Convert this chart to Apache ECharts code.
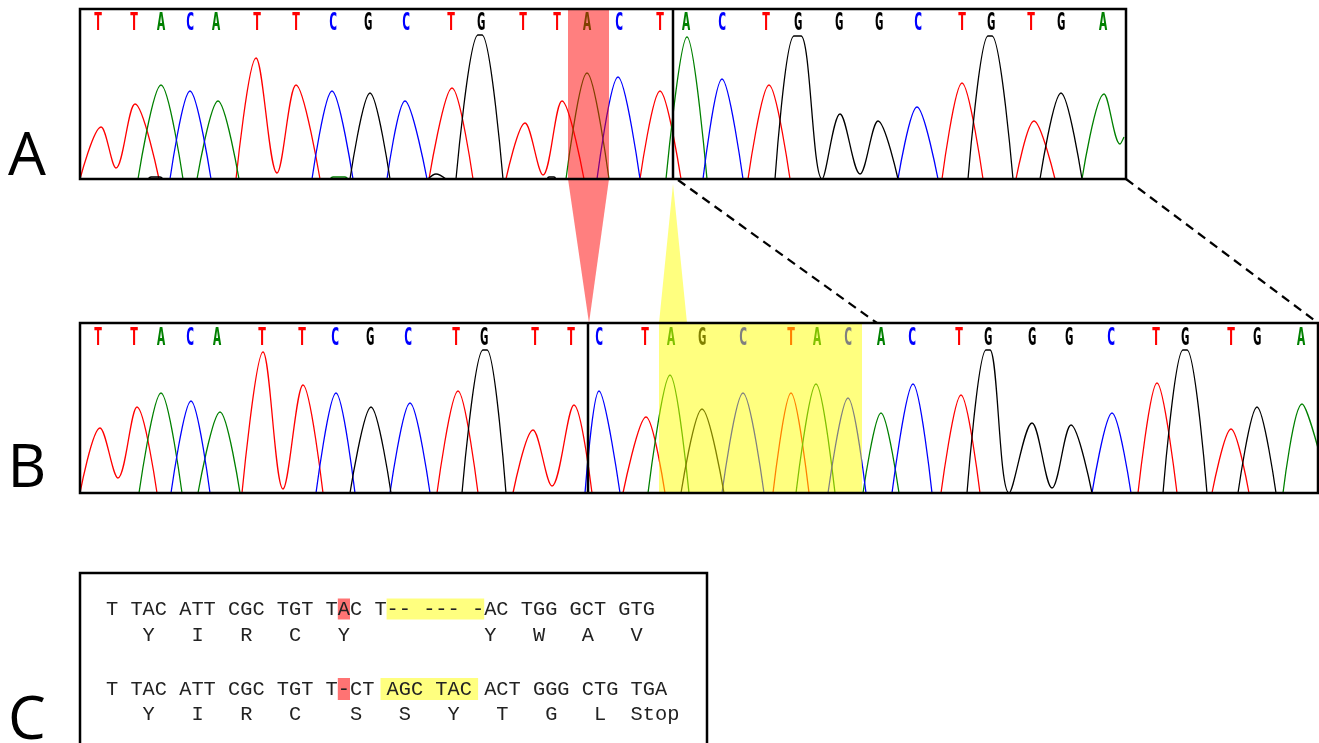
<!DOCTYPE html>
<html><head><meta charset="utf-8">
<script src="https://cdn.jsdelivr.net/npm/echarts@6/dist/echarts.min.js"></script>
<style>html,body{margin:0;padding:0;background:#fff}#c{width:1319px;height:743px}</style>
</head><body><div id="c"></div>
<script>
// ---------- Panel A (wild type) : base calls and traces (x = scan position, y = signal) ----------
const basesA   = 'TTACATTCGCTGTTACTACTGGGCTGTGA'.split('');
const basePosA = [18,54,81,110,136,177,216,253,288,326,371,401,443,477,507,539,580,606,642,686,718,759,799,838,882,911,951,981,1023];
const redA   = [[0,0],[21,52],[36,11],[55,75],[79,0],[156,0],[176,121],[197,6],[216,94],[240,0],[349,0],[372,91],[393,0],[426,0],[445,56],[463,4],[482,78],[504,0],[560,0],[580,88],[601,0],[668,0],[689,94],[710,0],[862,0],[882,96],[903,0],[936,0],[954,58],[975,0],[1046,0]];
const greenA = [[0,0],[58,0],[81,94],[103,0],[117,0],[138,78],[159,0],[250,0],[253,2],[265,2],[268,0],[486,0],[507,106],[529,0],[586,0],[607,142],[627,0],[1002,0],[1024,85],[1040,35],[1044,42]];
const blueA  = [[0,0],[90,0],[110,88],[131,0],[232,0],[252,88],[273,0],[307,0],[325,78],[347,0],[517,0],[538,102],[560,0],[623,0],[642,100],[663,0],[818,0],[837,72],[858,0],[1046,0]];
const blackA = [[0,0],[68,0],[71,2],[80,2],[83,0],[270,0],[290,86],[310,0],[348,0],[356,5],[366,0],[376,0],[398,144],[402,144],[423,0],[467,0],[469,2],[474,2],[476,0],[695,0],[714,143],[721,143],[742,0],[760,65],[780,5],[798,58],[818,0],[888,0],[908,143],[912,143],[933,0],[960,0],[981,86],[1002,0],[1046,0]];
const highlightA = [[488,529]];   // mutated base (red)
const dividerA   = [[593,0]];

// ---------- Panel B (mutant) ----------
const basesB   = 'TTACATTCGCTGTTCTAGCTACACTGGGCTGTGA'.split('');
const basePosB = [18,54,81,110,137,182,222,255,290,328,376,404,455,491,519,565,591,622,663,711,737,768,801,832,879,908,952,989,1031,1076,1105,1151,1177,1221];
const redB   = [[0,0],[20,65],[38,15],[57,86],[77,0],[162,0],[183,141],[203,4],[223,108],[243,0],[357,0],[378,102],[398,0],[433,0],[453,63],[472,7],[494,88],[512,0],[543,0],[566,76],[585,0],[693,0],[711,100],[729,0],[861,0],[881,98],[900,0],[1058,0],[1077,110],[1097,0],[1132,0],[1151,64],[1169,0],[1238,0]];
const greenB = [[0,0],[59,0],[81,100],[102,0],[118,0],[140,81],[160,0],[568,0],[590,118],[609,0],[716,0],[736,109],[755,0],[783,0],[801,80],[819,0],[1203,0],[1222,89],[1238,45]];
const blueB  = [[0,0],[91,0],[111,92],[130,0],[236,0],[256,100],[275,0],[310,0],[330,90],[350,0],[505,0],[519,102],[540,0],[642,0],[663,100],[684,0],[748,0],[768,95],[786,0],[812,0],[833,109],[852,0],[1012,0],[1032,80],[1051,0],[1238,0]];
const blackB = [[0,0],[270,0],[291,86],[311,0],[382,0],[403,143],[407,143],[426,0],[601,0],[622,84],[644,0],[887,0],[906,143],[910,143],[929,0],[952,70],[972,5],[991,68],[1012,0],[1083,0],[1103,143],[1107,143],[1127,0],[1158,0],[1177,86],[1196,0],[1238,0]];
const highlightB = [[579,782]];   // inserted bases (yellow)
const dividerB   = [[508,0]];

// ---------- Panel C (sequence alignment) ----------
const seqRows = [
  'T TAC ATT CGC TGT TAC T-- --- -AC TGG GCT GTG',
  '   Y   I   R   C   Y           Y   W   A   V',
  'T TAC ATT CGC TGT T-CT AGC TAC ACT GGG CTG TGA',
  '   Y   I   R   C    S   S   Y   T   G   L  Stop'
];
const seqMarks = [ // [row, fromChar, toChar, colour]
  [0, 19, 20, 'red'], [0, 23, 31, 'yellow'],
  [2, 19, 20, 'red'], [2, 22.5, 30.5, 'yellow']
];

const baseColor = {A:'#008000', C:'#0000ff', G:'#000000', T:'#ff0000'};
const traceColor = {red:'#ff0000', green:'#008000', blue:'#0000ff', black:'#000000'};
const shade = {red:'rgba(255,0,0,0.5)', yellow:'rgba(255,255,0,0.5)'};

const chart = echarts.init(document.getElementById('c'), null, {renderer:'canvas'});

// flat stretches on the baseline are drawn as gaps (the baseline is hidden by the frame)
function withBreaks(arr){
  const out = [];
  arr.forEach((p, i) => {
    if (i > 0 && arr[i-1][1] === 0 && p[1] === 0) out.push([arr[i-1][0], '-']);
    out.push(p);
  });
  return out;
}
function lineSeries(data, color, gi){
  return {type:'line', xAxisIndex:gi, yAxisIndex:gi, data:withBreaks(data), smooth:0.35, connectNulls:false,
    showSymbol:false, symbol:'none', lineStyle:{color:color, width:1.3}, z:2, silent:true, animation:false, clip:true};
}
function letterSeries(bases, pos, level, gi){
  return {type:'custom', xAxisIndex:gi, yAxisIndex:gi, z:3, silent:true, animation:false,
    data: pos.map((x,i)=>[x, level, i]),
    renderItem:function(params, api){
      const p = api.coord([api.value(0), api.value(1)]);
      const b = bases[api.value(2)];
      return {type:'text', x:p[0], y:p[1], scaleX:0.6, scaleY:1.05,
        style:{text:b, fill:baseColor[b], font:'bold 24px "DejaVu Sans Mono"', align:'center', verticalAlign:'middle'}};
    }};
}
function areaSeries(data, color, gi){
  return {type:'custom', xAxisIndex:gi, yAxisIndex:gi, z:10, silent:true, animation:false, data:data,
    renderItem:function(params, api){
      const p0 = api.coord([api.value(0), 170]);
      const p1 = api.coord([api.value(1), 0]);
      return {type:'rect', shape:{x:p0[0], y:p0[1], width:p1[0]-p0[0], height:p1[1]-p0[1]}, style:{fill:color}};
    }};
}
function dividerSeries(data, gi){
  return {type:'custom', xAxisIndex:gi, yAxisIndex:gi, z:15, silent:true, animation:false, data:data,
    renderItem:function(params, api){
      const p0 = api.coord([api.value(0), 170]);
      const p1 = api.coord([api.value(0), 0]);
      return {type:'line', shape:{x1:p0[0], y1:p0[1], x2:p1[0], y2:p1[1]}, style:{stroke:'#000', lineWidth:2.5}};
    }};
}

const gridStyle = {show:true, borderColor:'#000', borderWidth:2.5, backgroundColor:'transparent', z:20};
chart.setOption({
  animation:false,
  backgroundColor:'#fff',
  grid:[
    Object.assign({left:80, top:9, width:1046, height:170}, gridStyle),
    Object.assign({left:80, top:323, width:1238, height:170}, gridStyle)
  ],
  xAxis:[
    {type:'value', gridIndex:0, min:0, max:1046, show:false},
    {type:'value', gridIndex:1, min:0, max:1238, show:false}
  ],
  yAxis:[
    {type:'value', gridIndex:0, min:0, max:170, show:false},
    {type:'value', gridIndex:1, min:0, max:170, show:false}
  ],
  series:[
    lineSeries(redA, traceColor.red, 0), lineSeries(greenA, traceColor.green, 0),
    lineSeries(blueA, traceColor.blue, 0), lineSeries(blackA, traceColor.black, 0),
    letterSeries(basesA, basePosA, 156, 0),
    areaSeries(highlightA, shade.red, 0), dividerSeries(dividerA, 0),
    lineSeries(redB, traceColor.red, 1), lineSeries(greenB, traceColor.green, 1),
    lineSeries(blueB, traceColor.blue, 1), lineSeries(blackB, traceColor.black, 1),
    letterSeries(basesB, basePosB, 155, 1),
    areaSeries(highlightB, shade.yellow, 1), dividerSeries(dividerB, 1)
  ]
});

// connectors between panels A and B, computed from the two coordinate systems
const toA = p => chart.convertToPixel({gridIndex:0}, p);
const toB = p => chart.convertToPixel({gridIndex:1}, p);
const g = [];
g.push({type:'polygon', z:5, shape:{points:[toA([highlightA[0][0],0]), toA([highlightA[0][1],0]), toB([dividerB[0][0]+1,170])]}, style:{fill:shade.red}});
g.push({type:'polygon', z:5, shape:{points:[toA([dividerA[0][0],-5]), toB([highlightB[0][0],170]), toB([highlightB[0][0]+28,170])]}, style:{fill:shade.yellow}});
const d1a = toA([598,-1]), d1b = toB([797,170]);
const d2a = toA([1046,0]), d2b = toB([1238,170]);
g.push({type:'line', z:5, shape:{x1:d1a[0], y1:d1a[1], x2:d1b[0], y2:d1b[1]}, style:{stroke:'#000', lineWidth:2.2, lineDash:[9,6]}});
g.push({type:'line', z:5, shape:{x1:d2a[0], y1:d2a[1], x2:d2b[0], y2:d2b[1]}, style:{stroke:'#000', lineWidth:2.2, lineDash:[9,6]}});

// panel letters
const panelLabels = [['A',158],['B',470],['C',722]];
panelLabels.forEach(l => g.push({type:'text', z:5, x:27, y:l[1], style:{text:l[0], font:'60px "Open Sans"', fill:'#000', align:'center', verticalAlign:'middle'}}));

// panel C
const cx0 = 106, charW = 12.2, rowY = [609, 635, 689, 714], markH = [21, 21, 22, 22];
g.push({type:'rect', z:5, shape:{x:80, y:573, width:627, height:190}, style:{fill:'none', stroke:'#000', lineWidth:2.5}});
seqMarks.forEach(m => g.push({type:'rect', z:5, shape:{x:cx0 + m[1]*charW, y:rowY[m[0]] - markH[m[0]]/2, width:(m[2]-m[1])*charW, height:markH[m[0]]},
  style:{fill: m[3]==='red' ? 'rgba(255,0,0,0.55)' : 'rgba(255,255,0,0.5)'}}));
seqRows.forEach((r,i) => g.push({type:'text', z:6, x:cx0, y:rowY[i]+1, style:{text:r, font:'20.33px "Liberation Mono"', fill:'#222', align:'left', verticalAlign:'middle'}}));

chart.setOption({graphic:{elements:g}});
</script>
</body></html>
